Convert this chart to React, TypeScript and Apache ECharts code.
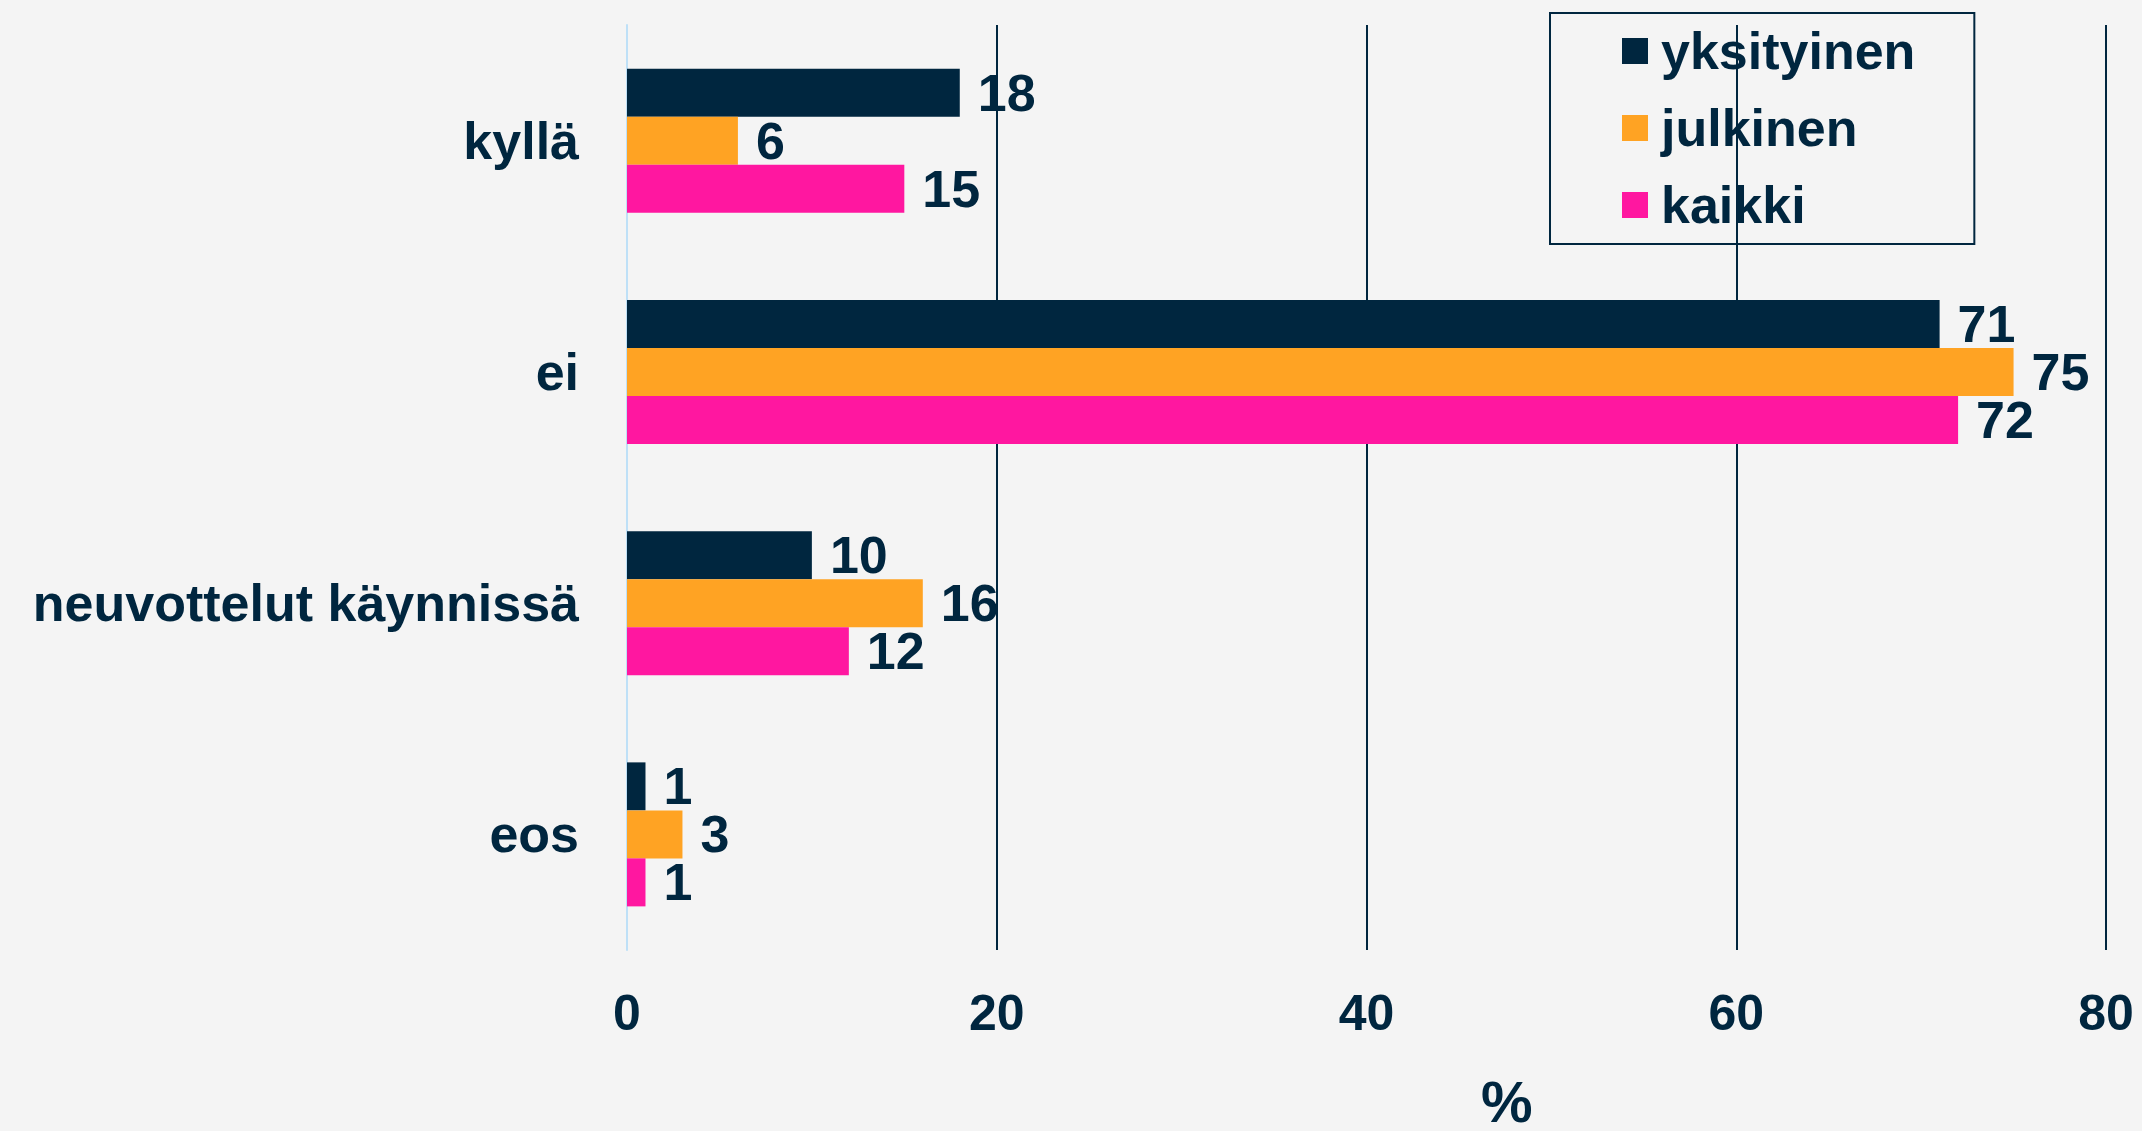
import React, { useEffect, useRef } from "react";
import * as echarts from "echarts";

const categories = ["kyllä", "ei", "neuvottelut käynnissä", "eos"];
const seriesNames = ["yksityinen", "julkinen", "kaikki"];
const yksityinen = [18, 71, 10, 1];
const julkinen = [6, 75, 16, 3];
const kaikki = [15, 72, 12, 1];
const xTicks = [0, 20, 40, 60, 80];
const axisTitle = "%";

const NAVY = "#00263F";
const COLORS = [NAVY, "#FFA323", "#FF17A0"];
const FONT = "'Liberation Sans', Arial, sans-serif";

export default function App() {
  const ref = useRef<HTMLDivElement>(null);
  useEffect(() => {
    if (!ref.current) return;
    const chart = echarts.init(ref.current, null, { renderer: "svg" });
    const values = [yksityinen, julkinen, kaikki];
    chart.setOption({
      animation: false,
      backgroundColor: "#F4F4F4",
      textStyle: { fontFamily: FONT },
      grid: { left: 627, top: 25, width: 1479, height: 925, containLabel: false },
      legend: {
        orient: "vertical",
        left: 1550,
        top: 13,
        data: seriesNames,
        icon: "rect",
        itemWidth: 26,
        itemHeight: 26,
        itemGap: 25,
        padding: [12, 59, 13, 72],
        borderColor: NAVY,
        borderWidth: 2,
        borderRadius: 0,
        textStyle: {
          fontFamily: FONT,
          fontSize: 52,
          fontWeight: "bold",
          color: NAVY,
          padding: [0, 0, 0, 8],
        },
      },
      xAxis: {
        type: "value",
        min: xTicks[0],
        max: xTicks[xTicks.length - 1],
        interval: 20,
        axisLine: { show: false },
        axisTick: { show: false },
        splitLine: { show: true, lineStyle: { color: NAVY, width: 2 } },
        axisLabel: {
          fontFamily: FONT,
          fontSize: 50,
          fontWeight: "bold",
          color: NAVY,
          margin: 38,
        },
      },
      yAxis: {
        type: "category",
        inverse: true,
        data: categories,
        axisLine: { show: true, lineStyle: { color: "#BEE0F7", width: 2 } },
        axisTick: { show: false },
        axisLabel: {
          fontFamily: FONT,
          fontSize: 52,
          fontWeight: "bold",
          color: NAVY,
          margin: 48,
        },
      },
      graphic: [
        {
          type: "text",
          left: 1481,
          top: 1072,
          style: {
            text: axisTitle,
            fontFamily: FONT,
            fontSize: 58,
            fontWeight: "bold",
            fill: NAVY,
          },
        },
      ],
      series: seriesNames.map((name, i) => ({
        name,
        type: "bar",
        data: values[i],
        barWidth: 48,
        barGap: "0%",
        itemStyle: { color: COLORS[i] },
        label: {
          show: true,
          position: "right",
          distance: 18,
          fontFamily: FONT,
          fontSize: 52,
          fontWeight: "bold",
          color: NAVY,
        },
      })),
    });
    return () => chart.dispose();
  }, []);
  return (
    <div
      ref={ref}
      style={{
        position: "fixed",
        left: 0,
        top: 0,
        width: 2142,
        height: 1131,
        background: "#F4F4F4",
      }}
    />
  );
}
